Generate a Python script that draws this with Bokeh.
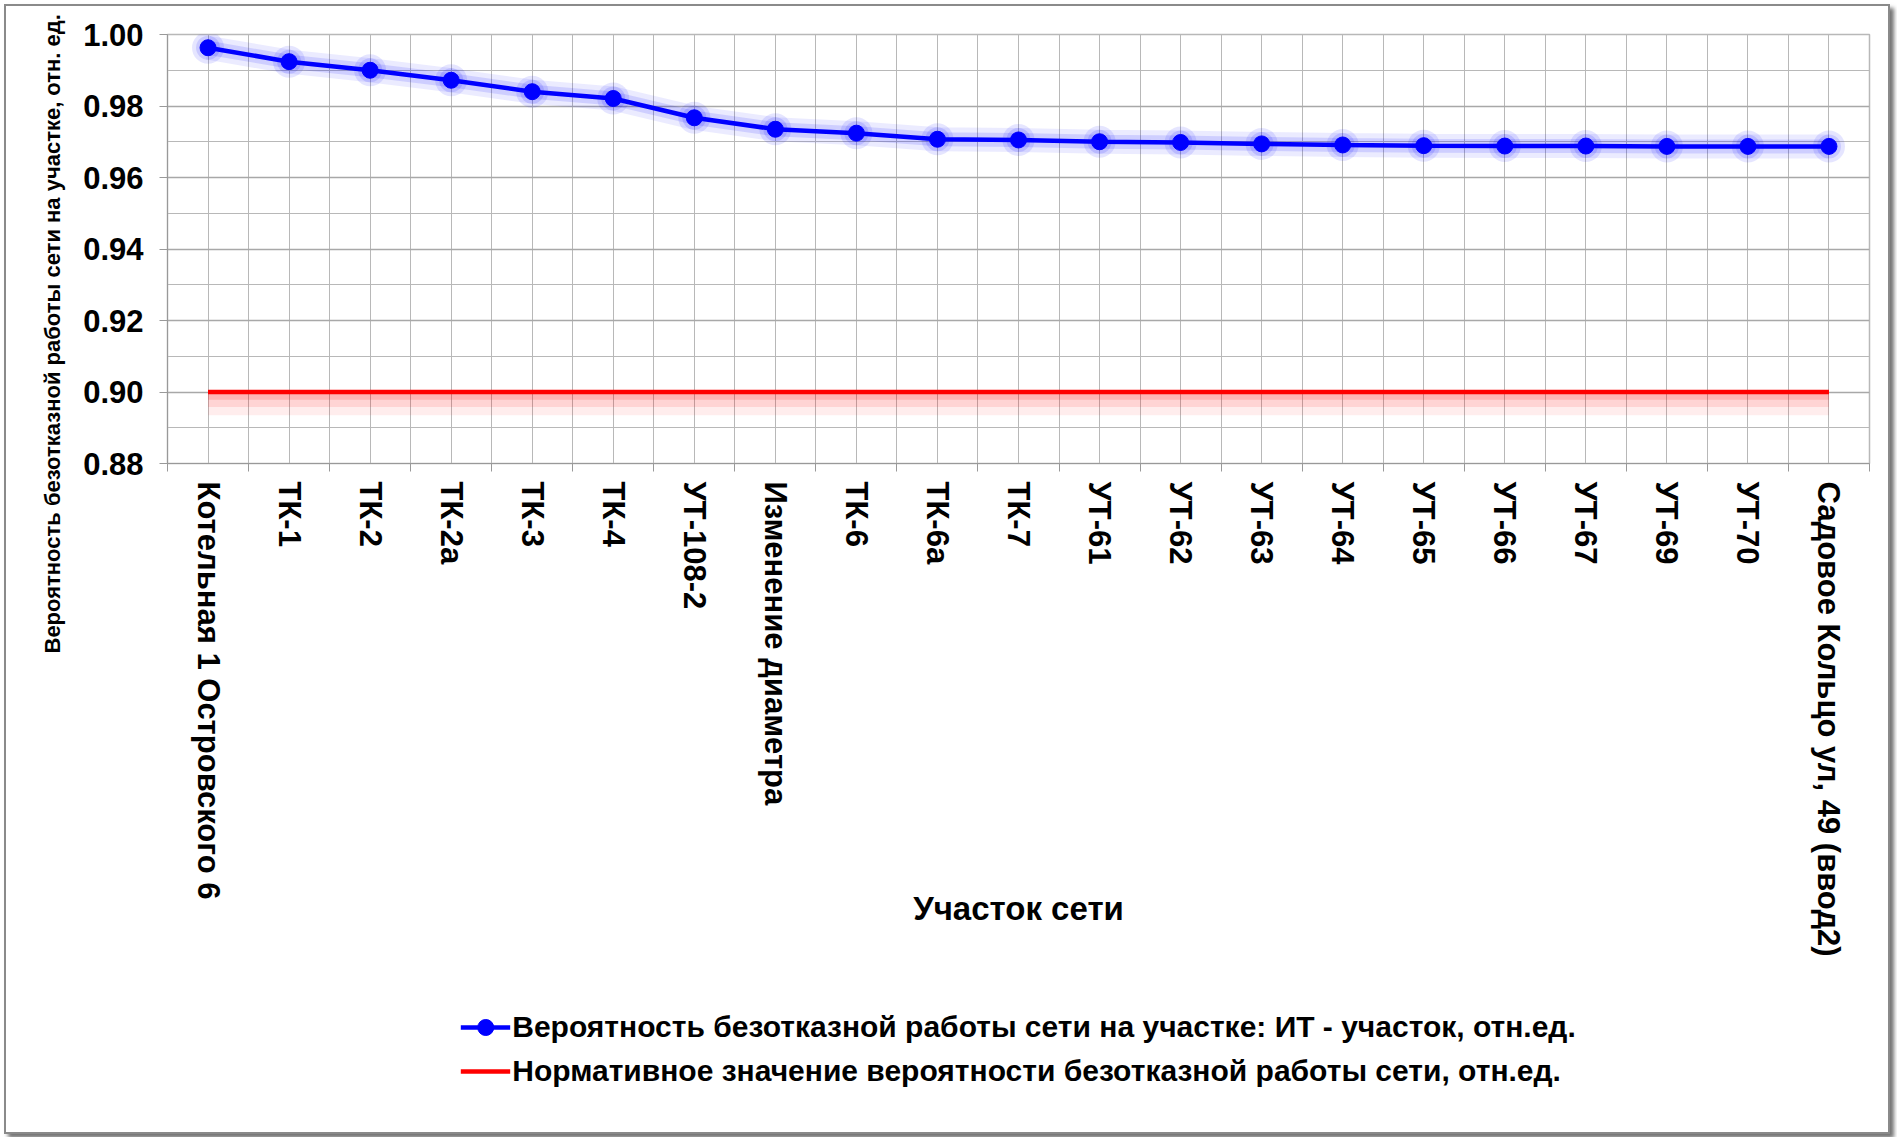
import numpy as np
from bokeh.plotting import figure
from bokeh.layouts import column
from bokeh.models import FixedTicker, Legend, LegendItem, NumeralTickFormatter, Range1d, Title
from bokeh.embed import file_html
from bokeh.resources import INLINE

# ---- data ----
categories = [
    "Котельная 1 Островского 6", "ТК-1", "ТК-2", "ТК-2а", "ТК-3", "ТК-4",
    "УТ-108-2", "Изменение диаметра", "ТК-6", "ТК-6а", "ТК-7", "УТ-61",
    "УТ-62", "УТ-63", "УТ-64", "УТ-65", "УТ-66", "УТ-67", "УТ-69", "УТ-70",
    "Садовое Кольцо ул, 49 (ввод2)",
]
probability = [
    0.9963, 0.9924, 0.9900, 0.9872, 0.9840, 0.9821, 0.9767, 0.9735, 0.9724,
    0.9707, 0.9705, 0.9700, 0.9698, 0.9694, 0.9691, 0.9689, 0.9688, 0.9688,
    0.9687, 0.9687, 0.9687,
]
norm_value = [
    0.90, 0.90, 0.90, 0.90, 0.90, 0.90, 0.90, 0.90, 0.90, 0.90, 0.90,
    0.90, 0.90, 0.90, 0.90, 0.90, 0.90, 0.90, 0.90, 0.90, 0.90,
]
y_ticks = [0.88, 0.90, 0.92, 0.94, 0.96, 0.98, 1.00]
y_minor_ticks = [0.89, 0.91, 0.93, 0.95, 0.97, 0.99]

series_label = "Вероятность безотказной работы сети на участке: ИТ - участок, отн.ед."
norm_label = "Нормативное значение вероятности безотказной работы сети, отн.ед."
y_title = "Вероятность  безотказной работы сети на участке, отн. ед."
x_title = "Участок сети"

FONT = "Liberation Sans"
GRID = "#b8b8b8"
BLUE = "#0000ff"
RED = "#ff0000"

n = len(categories)
xs = np.arange(n)
prob = np.array(probability)
norm = np.array(norm_value)

W = 1882
H_MAIN = 982
H_LEG = 144
BL, BR = 161, 19
BT = 28

p = figure(
    width=W, height=H_MAIN, output_backend="svg", toolbar_location=None,
    x_range=Range1d(-0.5, n - 0.5), y_range=Range1d(y_ticks[0], y_ticks[-1]),
    min_border_left=BL, min_border_right=BR, min_border_top=BT,
    min_border_bottom=H_MAIN - BT - 429,
    background_fill_color="white", border_fill_color="white",
)
p.outline_line_color = GRID
p.outline_line_width = 1.5

# ticks / grids
xt = FixedTicker(ticks=list(xs), minor_ticks=list(np.arange(n + 1) - 0.5))
yt = FixedTicker(ticks=y_ticks, minor_ticks=y_minor_ticks)
p.xaxis.ticker = xt
p.xgrid.ticker = xt
p.yaxis.ticker = yt
p.ygrid.ticker = yt

p.xgrid.grid_line_color = GRID
p.xgrid.minor_grid_line_color = GRID
p.ygrid.grid_line_color = "#a8a8a8"
p.ygrid.grid_line_width = 1.5
p.ygrid.minor_grid_line_color = GRID

p.xaxis.major_label_overrides = {int(i): c for i, c in enumerate(categories)}
p.xaxis.major_label_orientation = "vertical"
p.xaxis.major_tick_out = 0
p.xaxis.major_tick_in = 0
p.xaxis.minor_tick_out = 8
p.xaxis.minor_tick_in = 0
p.xaxis.minor_tick_line_color = "#999999"
p.xaxis.axis_line_color = "#999999"
p.xaxis.major_label_standoff = 10
p.xaxis.major_label_text_font = FONT
p.xaxis.major_label_text_font_style = "bold"
p.xaxis.major_label_text_font_size = "31px"
p.xaxis.major_label_text_color = "black"
p.xaxis.axis_label = x_title
p.xaxis.axis_label_text_font = FONT
p.xaxis.axis_label_text_font_style = "bold"
p.xaxis.axis_label_text_font_size = "33px"
p.xaxis.axis_label_text_color = "black"
p.xaxis.axis_label_standoff = -70

p.yaxis.formatter = NumeralTickFormatter(format="0.00")
p.yaxis.major_tick_out = 8
p.yaxis.major_tick_in = 0
p.yaxis.minor_tick_out = 0
p.yaxis.minor_tick_in = 0
p.yaxis.major_tick_line_color = "#999999"
p.yaxis.axis_line_color = "#999999"
p.yaxis.major_label_standoff = 16
p.yaxis.major_label_text_font = FONT
p.yaxis.major_label_text_font_style = "bold"
p.yaxis.major_label_text_font_size = "31px"
p.yaxis.major_label_text_color = "black"

ytitle = Title(
    text=y_title, align="left", offset=-190, standoff=32,
    text_font=FONT, text_font_style="bold", text_font_size="22px", text_color="black",
)
p.add_layout(ytitle, "left")

# red norm line with soft shadow below
for depth, a in [(0.0022, 0.14), (0.0042, 0.10), (0.0065, 0.07)]:
    p.varea(x=xs, y1=norm - 0.0005, y2=norm - depth, fill_color=RED, fill_alpha=a)
p.line(xs, norm, line_color=RED, line_width=4.5)

# blue series with glow
p.line(xs, prob, line_color=BLUE, line_width=24, line_alpha=0.08)
p.line(xs, prob, line_color=BLUE, line_width=14, line_alpha=0.12)
p.scatter(xs, prob, size=32, fill_color=BLUE, fill_alpha=0.10, line_color=None)
p.scatter(xs, prob, size=24, fill_color=BLUE, fill_alpha=0.12, line_color=None)
p.line(xs, prob, line_color=BLUE, line_width=4.5)
p.scatter(xs, prob, size=16, fill_color=BLUE, line_color=BLUE)

# ---- legend strip (separate canvas below the chart) ----
# the same series are drawn here only to feed the legend; the view range keeps them off-screen
p2 = figure(
    width=W, height=H_LEG, output_backend="svg", toolbar_location=None,
    x_range=Range1d(-0.5, n - 0.5), y_range=Range1d(10, 11),
    x_axis_location=None, y_axis_location=None,
    min_border_left=BL, min_border_right=BR, min_border_top=0, min_border_bottom=0,
    background_fill_color="white", border_fill_color="white",
)
p2.grid.visible = False
p2.outline_line_color = None
lg_line = p2.line(xs, prob, line_color=BLUE, line_width=4.5)
lg_pts = p2.scatter(xs, prob, size=16, fill_color=BLUE, line_color=BLUE)
lg_red = p2.line(xs, norm, line_color=RED, line_width=4.5)

legend = Legend(
    items=[
        LegendItem(label=series_label, renderers=[lg_line, lg_pts]),
        LegendItem(label=norm_label, renderers=[lg_red]),
    ],
    location="top_center", orientation="vertical",
    label_text_font=FONT, label_text_font_style="bold", label_text_font_size="30px",
    label_text_color="black",
    glyph_width=50, glyph_height=40, label_height=40, spacing=4, label_standoff=2,
    padding=5, margin=19, border_line_color=None, background_fill_alpha=0,
)
p2.add_layout(legend, "center")

layout = column(p, p2, spacing=0)
layout.styles = {"border": "2px solid #8a8a8a", "box-shadow": "4px 4px 4px rgba(0,0,0,0.55)",
                 "background": "white", "margin": "4px 0 0 4px"}

open("out.html", "w").write(file_html(layout, INLINE))
